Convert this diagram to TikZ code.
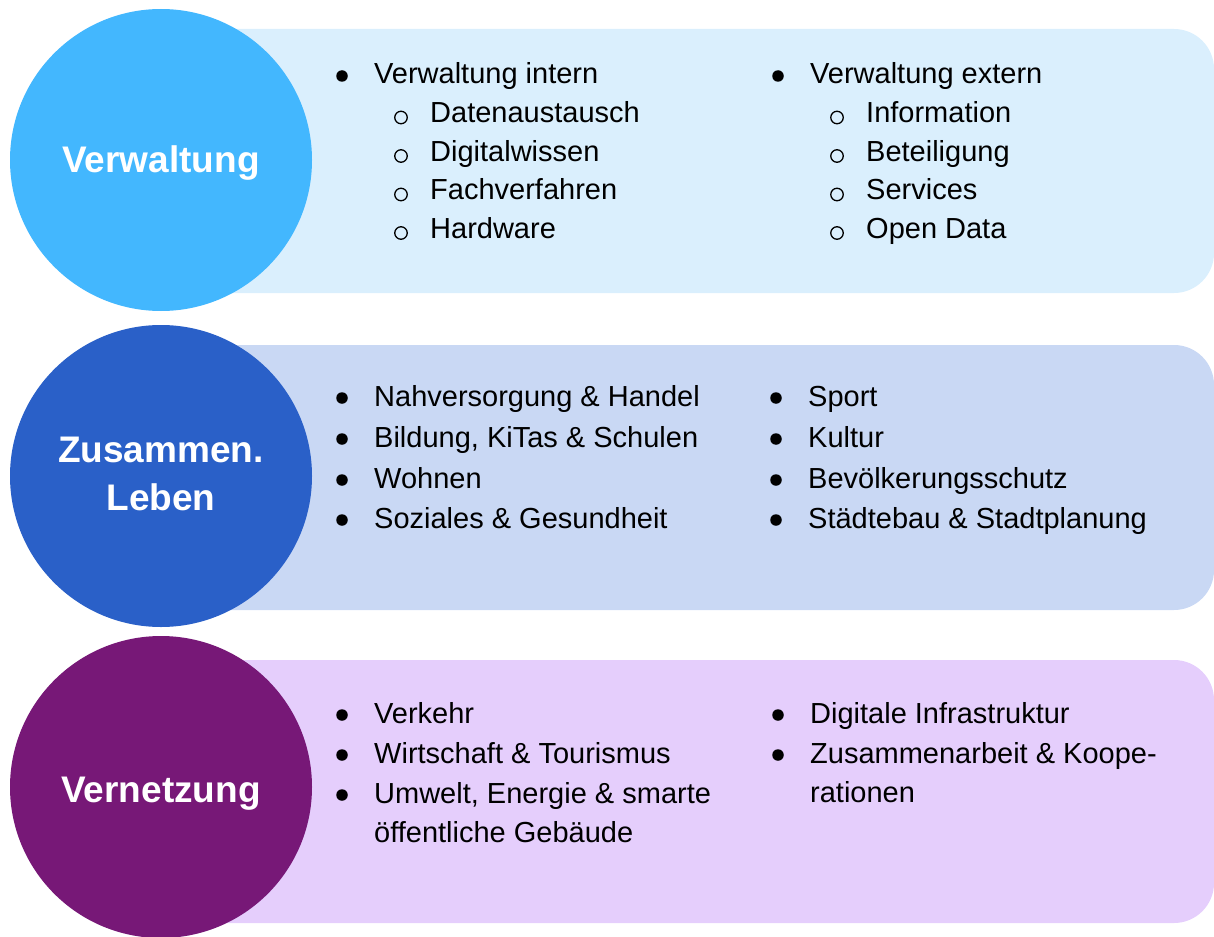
\documentclass[tikz,border=0pt]{standalone}
\usepackage{fontspec}
\setmainfont{Liberation Sans}
\definecolor{c1}{HTML}{43B7FE}
\definecolor{b1}{HTML}{DAEFFD}
\definecolor{c2}{HTML}{2A60C8}
\definecolor{b2}{HTML}{C9D8F4}
\definecolor{c3}{HTML}{771877}
\definecolor{b3}{HTML}{E5CEFC}
\begin{document}
\begin{tikzpicture}[x=1pt,y=-1pt,
  panel/.style={rounded corners=40pt},
  disc/.style={circle,minimum size=302pt,inner sep=0pt},
  title/.style={text=white,font=\fontsize{37}{48}\selectfont\bfseries,align=center},
  item/.style={anchor=base west,inner sep=0pt,font=\fontsize{29}{40}\selectfont},
  bul/.style={circle,fill=black,inner sep=0pt,minimum size=11.5pt,yshift=8pt},
  sbul/.style={circle,draw=black,line width=1.3pt,inner sep=0pt,minimum size=12.5pt,yshift=5.5pt}]
\useasboundingbox (0,0) rectangle (1214,936);
% panels
\fill[b1,panel] (161,29) rectangle (1214,293);
\fill[b2,panel] (161,345) rectangle (1214,610);
\fill[b3,panel] (161,660) rectangle (1214,923);
% discs
\node[disc,fill=c1] (d1) at (161,160) {};
\node[disc,fill=c2] (d2) at (161,476) {};
\node[disc,fill=c3] (d3) at (161,787) {};
\node[title,anchor=base] (t1) at (161,172) {Verwaltung};
\node[title,anchor=base] (t2a) at (161,462) {Zusammen.};
\node[title,anchor=base] (t2b) at (161,510) {Leben};
\node[title,anchor=base] (t3) at (161,802) {Vernetzung};
% box 1 left
\node[bul] (p1) at (342,84) {};
\node[item] (i1) at (374,84) {Verwaltung intern};
\node[sbul] (q1) at (401,123) {};
\node[item] (i2) at (430,123) {Datenaustausch};
\node[sbul] (q2) at (401,161.5) {};
\node[item] (i3) at (430,161.5) {Digitalwissen};
\node[sbul] (q3) at (401,200) {};
\node[item] (i4) at (430,200) {Fachverfahren};
\node[sbul] (q4) at (401,238.5) {};
\node[item] (i5) at (430,238.5) {Hardware};
% box 1 right
\node[bul] (p2) at (778,84) {};
\node[item] (j1) at (810,84) {Verwaltung extern};
\node[sbul] (r1) at (837,123) {};
\node[item] (j2) at (866,123) {Information};
\node[sbul] (r2) at (837,161.5) {};
\node[item] (j3) at (866,161.5) {Beteiligung};
\node[sbul] (r3) at (837,200) {};
\node[item] (j4) at (866,200) {Services};
\node[sbul] (r4) at (837,238.5) {};
\node[item] (j5) at (866,238.5) {Open Data};
% box 2 left
\node[bul] (p3) at (342,406) {};
\node[item] (k1) at (374,406) {Nahversorgung \& Handel};
\node[bul] (p4) at (342,447) {};
\node[item] (k2) at (374,447) {Bildung, KiTas \& Schulen};
\node[bul] (p5) at (342,488) {};
\node[item] (k3) at (374,488) {Wohnen};
\node[bul] (p6) at (342,528) {};
\node[item] (k4) at (374,528) {Soziales \& Gesundheit};
% box 2 right
\node[bul] (p7) at (776,406) {};
\node[item] (m1) at (808,406) {Sport};
\node[bul] (p8) at (776,447) {};
\node[item] (m2) at (808,447) {Kultur};
\node[bul] (p9) at (776,488) {};
\node[item] (m3) at (808,488) {Bevölkerungsschutz};
\node[bul] (p10) at (776,528) {};
\node[item] (m4) at (808,528) {Städtebau \& Stadtplanung};
% box 3 left
\node[bul] (p11) at (342,723) {};
\node[item] (n1) at (374,723) {Verkehr};
\node[bul] (p12) at (342,763) {};
\node[item] (n2) at (374,763) {Wirtschaft \& Tourismus};
\node[bul] (p13) at (342,803) {};
\node[item] (n3) at (374,803) {Umwelt, Energie \& smarte};
\node[item] (n4) at (374,842) {öffentliche Gebäude};
% box 3 right
\node[bul] (p14) at (778,723) {};
\node[item] (o1) at (810,723) {Digitale Infrastruktur};
\node[bul] (p15) at (778,763) {};
\node[item] (o2) at (810,763) {Zusammenarbeit \& Koope-};
\node[item] (o3) at (810,802) {rationen};
\end{tikzpicture}
\end{document}
